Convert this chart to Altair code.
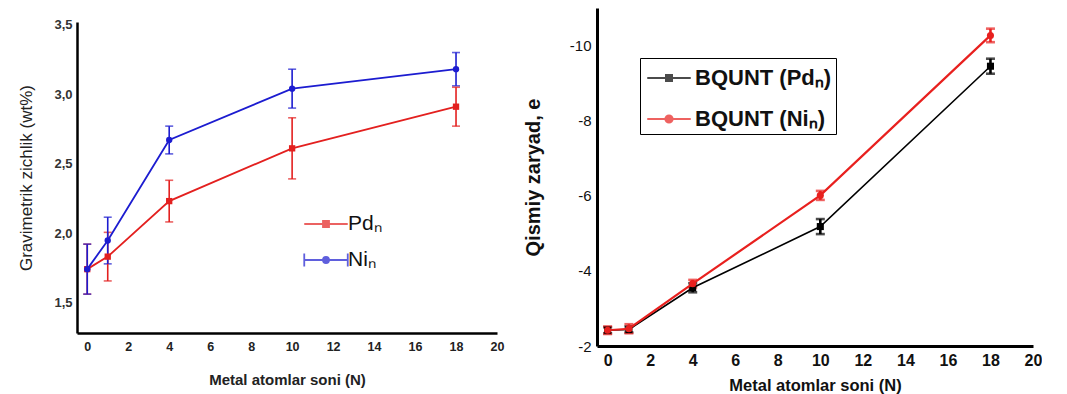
import altair as alt
import pandas as pd

# ---- data ----
N = [0, 1, 4, 10, 18]
series_names = ["Pd", "Ni"]

pd_grav = [1.74, 1.83, 2.23, 2.61, 2.91]
pd_grav_err = [0.18, 0.175, 0.15, 0.22, 0.14]
ni_grav = [1.74, 1.946, 2.67, 3.04, 3.18]
ni_grav_err = [0.18, 0.168, 0.10, 0.14, 0.12]

pd_charge = [-2.42, -2.44, -3.55, -5.18, -9.45]
pd_charge_err = [0.08, 0.08, 0.12, 0.20, 0.20]
ni_charge = [-2.42, -2.46, -3.66, -6.01, -10.27]
ni_charge_err = [0.10, 0.12, 0.10, 0.12, 0.18]

left_yticks = [1.5, 2.0, 2.5, 3.0, 3.5]
right_yticks = [-2, -4, -6, -8, -10]
xticks = [0, 2, 4, 6, 8, 10, 12, 14, 16, 18, 20]


def frame(name, vals, errs):
    return pd.DataFrame({
        "N": N,
        "series": name,
        "v": vals,
        "lo": [v - e for v, e in zip(vals, errs)],
        "hi": [v + e for v, e in zip(vals, errs)],
    })


left_df = pd.concat([frame("Pd", pd_grav, pd_grav_err), frame("Ni", ni_grav, ni_grav_err)])
right_df = pd.concat([frame("Pd", pd_charge, pd_charge_err), frame("Ni", ni_charge, ni_charge_err)])

FONT = "Liberation Sans"
NOVIEW = {"stroke": "transparent", "strokeWidth": 0}

# custom legend symbols: line + marker (unit = 15px since symbolSize=900)
SQ = "M-1.45,0H1.45M-0.2,-0.2H0.2V0.2H-0.2Z"
CI = "M-1.45,0H1.45M0.24,0A0.24,0.24 0 1 1 -0.24,0A0.24,0.24 0 1 1 0.24,0Z"
CAP_CI = "M-1.45,-0.43V0.43M-1.45,0H1.45M1.45,-0.43V0.43M0.2,0A0.2,0.2 0 1 1 -0.2,0A0.2,0.2 0 1 1 0.2,0Z"


def panel(df, colors, shapes_legend, legend_kw, xaxis, yaxis, yscale, line_w, err_size, err_thick, pt_size, width, height):
    legend = alt.Legend(**legend_kw)
    cscale = alt.Scale(domain=series_names, range=colors)
    color = alt.Color("series:N", scale=cscale, sort=series_names, legend=legend)
    x = alt.X("N:Q", scale=alt.Scale(domain=[-0.5, 20], nice=False), axis=xaxis)
    yv = alt.Y("v:Q", scale=yscale, axis=yaxis)
    ylo = alt.Y("lo:Q", scale=yscale, axis=yaxis)
    base = alt.Chart(df)
    layers = []
    layers.append(base.mark_errorbar(ticks=True, size=err_size, thickness=err_thick).encode(
        x=x, y=ylo, y2="hi:Q", color=color))
    for name, shp, lw in zip(series_names, ["square", "circle"], line_w):
        sub = base.transform_filter(alt.datum.series == name)
        layers.append(sub.mark_line(strokeWidth=lw).encode(x=x, y=yv, color=color))
        layers.append(sub.mark_point(filled=True, size=pt_size, opacity=1, shape=shp).encode(x=x, y=yv, color=color))
    leg = base.transform_filter("false").mark_point(filled=True, opacity=1, strokeWidth=legend_kw.get("symbolStrokeWidth", 2)).encode(
        x=x, y=yv, color=color,
        stroke=alt.Stroke("series:N", scale=cscale, sort=series_names, legend=legend),
        shape=alt.Shape("series:N", scale=alt.Scale(domain=series_names, range=shapes_legend), sort=series_names, legend=legend))
    layers.append(leg)
    return alt.layer(*layers).properties(width=width, height=height, view=NOVIEW)


# ---------------- left panel ----------------
lx = alt.Axis(values=xticks, title="Metal atomlar soni (N)", grid=False,
              ticks=False, domainColor="#000", domainWidth=2.5, labelFlush=False,
              labelFont=FONT, labelFontSize=12.5, labelFontWeight="bold", labelColor="#222",
              labelPadding=7, titleFont=FONT, titleFontSize=15, titleFontWeight="bold",
              titleColor="#222", titlePadding=20)
ly = alt.Axis(values=left_yticks, title="Gravimetrik zichlik (wt%)", grid=False, ticks=False,
              domainColor="#000", domainWidth=2.5, labelFlush=False,
              labelExpr="replace(format(datum.value, '.1f'), '.', ',')",
              labelFont=FONT, labelFontSize=13, labelFontWeight="bold", labelColor="#333",
              labelPadding=5, titleFont=FONT, titleFontSize=17, titleFontWeight="normal",
              titleColor="#222", titlePadding=18)
left_legend = dict(
    orient="none", legendX=224, legendY=196, title=None,
    labelExpr="datum.label + 'ₙ'",
    labelFont=FONT, labelFontSize=21, labelColor="#111",
    symbolSize=900, symbolOffset=5, labelOffset=6, padding=4, rowPadding=10,
    symbolStrokeWidth=1.8,
)
left = panel(left_df, ["#e3201f", "#1c1cd0"], [SQ, CAP_CI], left_legend, lx, ly,
             alt.Scale(domain=[1.28, 3.52], nice=False, zero=False),
             [1.8, 1.8], 8, 1.6, 40, 420, 311)

spacer = alt.Chart(pd.DataFrame({"k": [0]})).mark_point(opacity=0, size=1).encode(
    x=alt.value(5), y=alt.value(5)).properties(width=420, height=10, view=NOVIEW)

left_col = alt.vconcat(spacer, left, spacing=0)

# ---------------- right panel ----------------
rx = alt.Axis(values=xticks, title="Metal atomlar soni (N)", grid=False,
              ticks=False, domainColor="#000", domainWidth=3, labelFlush=False,
              labelFont=FONT, labelFontSize=16, labelFontWeight="bold", labelColor="#111",
              labelPadding=6, titleFont=FONT, titleFontSize=16.5, titleFontWeight="bold",
              titleColor="#111", titlePadding=9)
ry = alt.Axis(values=right_yticks, title="Qismiy zaryad, e", grid=False, ticks=False,
              domainColor="#000", domainWidth=3, labelFlush=False,
              labelExpr="'-' + format(abs(datum.value), 'd')",
              labelFont=FONT, labelFontSize=15, labelFontWeight="normal", labelColor="#111",
              labelPadding=6, titleFont=FONT, titleFontSize=20, titleFontWeight="bold",
              titleColor="#111", titlePadding=26)
right_legend = dict(
    orient="none", legendX=43, legendY=50, title=None,
    labelExpr="'BQUNT (' + datum.label + 'ₙ) '",
    labelFont=FONT, labelFontSize=22, labelFontWeight="bold", labelColor="#111",
    symbolSize=900, symbolOffset=9, labelOffset=10, padding=4, rowPadding=14,
    symbolStrokeWidth=2, strokeColor="#000",
)
right = panel(right_df, ["#000000", "#e8201e"], [SQ, CI], right_legend, rx, ry,
              alt.Scale(domain=[-2, -11], nice=False, zero=False),
              [1.6, 2.2], 9, 2.6, 50, 436, 338)

chart = alt.hconcat(left_col, right, spacing=19).resolve_scale(
    color="independent", shape="independent", stroke="independent"
).properties(
    padding={"left": 9, "top": 0, "right": 0, "bottom": 0}
).configure_view(stroke="transparent", strokeWidth=0).configure(background="white")

chart.save("out.html", embed_options={"renderer": "svg", "actions": False})
